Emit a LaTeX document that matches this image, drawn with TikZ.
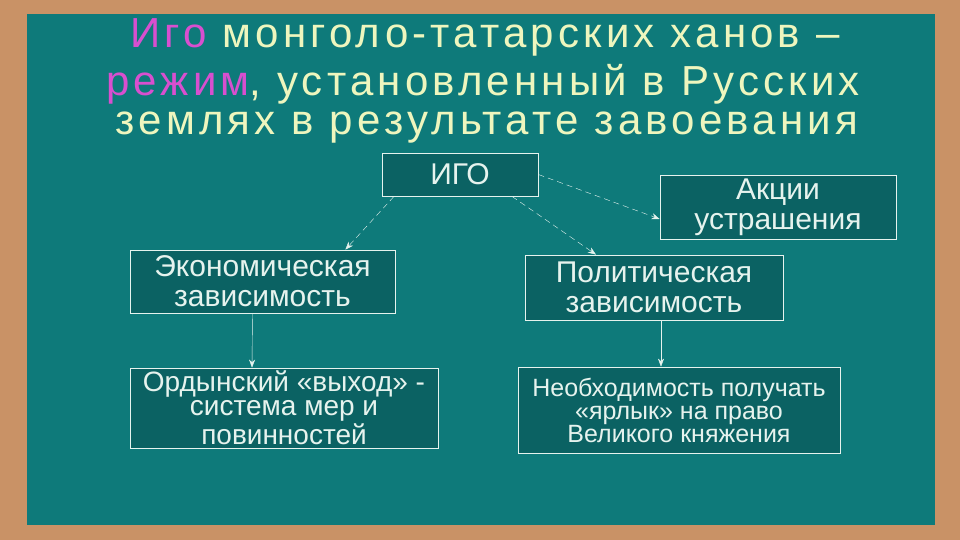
\documentclass[tikz,border=0pt]{standalone}
\usepackage{fontspec}
\setmainfont{Liberation Sans}
\newfontfamily\spacedfont[LetterSpace=10]{Liberation Sans}
\usetikzlibrary{arrows.meta,positioning}
\definecolor{frame}{HTML}{C99266}
\definecolor{board}{HTML}{0E7A7A}
\definecolor{boxfill}{HTML}{0B6263}
\definecolor{titletext}{HTML}{EEF6BE}
\definecolor{accent}{HTML}{D84FCF}
\definecolor{boxtext}{HTML}{E6F3EE}

\begin{document}
\begin{tikzpicture}[
    x=0.5pt, y=-0.5pt,
    titleline/.style = {text=titletext, font=\spacedfont\fontsize{21}{24}\selectfont},
    infobox/.style   = {rectangle, draw=boxtext, fill=boxfill, thin, text=boxtext,
                        align=center, font=\fontsize{15}{15}\selectfont,
                        inner sep=0pt},
    link/.style      = {draw=boxtext, densely dashed, very thin, -{Stealth[length=4pt]}},
    solidlink/.style = {draw=boxtext, very thin, -{Stealth[length=4pt]}},
]
    %Background
    \fill[frame] (0,0) rectangle (960,540);
    \fill[board] (27,14) rectangle (935,525);
    \useasboundingbox (0,0) rectangle (960,540);

    %Title
    \node[titleline] (line1) at (485,37)  {\textcolor{accent}{Иго} монголо-татарских ханов –};
    \node[titleline] (line2) at (483,84)  {\textcolor{accent}{режим}, установленный в Русских};
    \node[titleline] (line3) at (487,128) {землях в результате завоевания};

    %Boxes
    \node[infobox, minimum width=78pt,  minimum height=21.5pt] (yoke)      at (460,174.5) {ИГО};
    \node[infobox, minimum width=118pt, minimum height=32pt]   (terror)    at (778,207)   {Акции\\устрашения};
    \node[infobox, minimum width=132.5pt, minimum height=31.5pt] (economic) at (262.5,281.5) {Экономическая\\зависимость};
    \node[infobox, minimum width=129pt, minimum height=32.5pt] (political) at (654,287.5) {Политическая\\зависимость};
    \node[infobox, minimum width=154pt, minimum height=40pt,
          font=\fontsize{14}{12}\selectfont]                   (tribute)   at (284,408)   {Ордынский «выход» -\\система мер и\\повинностей};
    \node[infobox, minimum width=161pt, minimum height=43pt,
          font=\fontsize{12.5}{11.5}\selectfont]               (label)     at (679,410)   {Необходимость получать\\«ярлык» на право\\Великого княжения};

    %Lines
    \draw[link] ([xshift=-33pt]yoke.south) -- ([xshift=-25pt]economic.north east);
    \draw[link] ([xshift=26pt]yoke.south) -- ([xshift=-29pt]political.north);
    \draw[link] (yoke.east) -- ([yshift=-6pt]terror.west);
    \draw[solidlink] ([xshift=-5pt]economic.south) -- ([xshift=-16pt]tribute.north);
    \draw[solidlink] ([xshift=3.5pt]political.south) -- ([xshift=-9pt]label.north);
\end{tikzpicture}
\end{document}
